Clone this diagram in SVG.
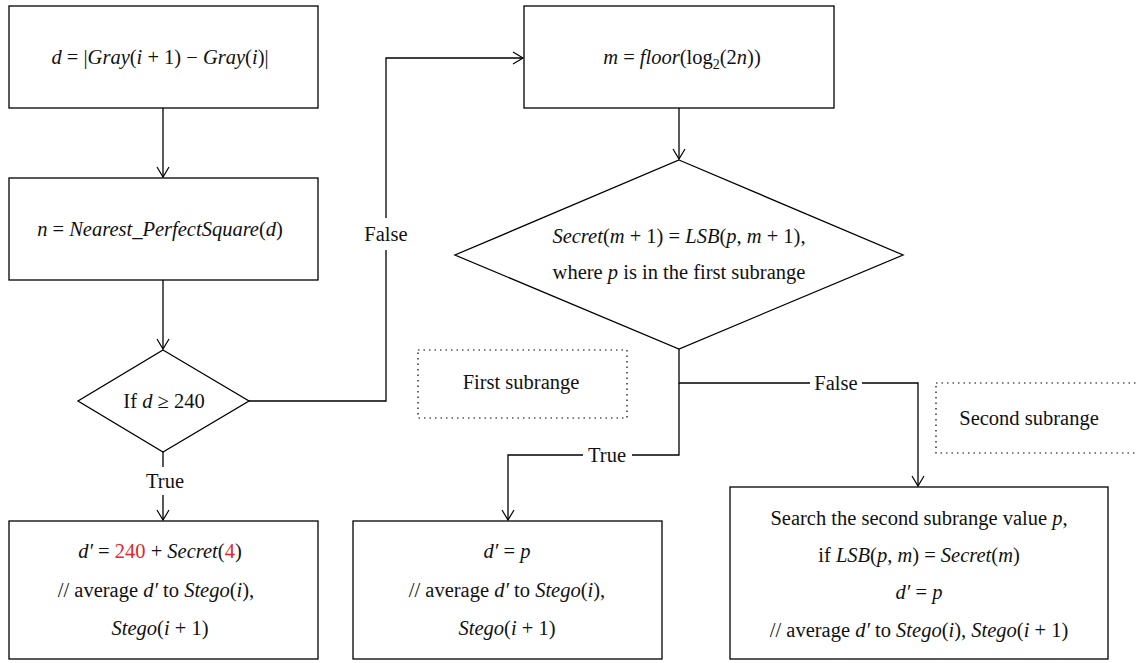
<svg xmlns="http://www.w3.org/2000/svg" width="1137" height="663" viewBox="0 0 1137 663">
<style>
.box{fill:#fff;stroke:#000;stroke-width:1.3}
.dot{fill:none;stroke:#000;stroke-width:1.2;stroke-dasharray:1.5 4}
.ln{fill:none;stroke:#000;stroke-width:1.3}
text{font-family:"Liberation Serif","Times New Roman",serif;font-size:20.5px;fill:#111;text-anchor:middle}
.i{font-style:italic}
.r{fill:#e3262a}
</style>
<defs>
<marker id="arr" markerWidth="14" markerHeight="14" refX="12" refY="7" orient="auto" markerUnits="userSpaceOnUse">
<path d="M2,1 L12,7 L2,13" fill="none" stroke="#000" stroke-width="1.2"/>
</marker>
</defs>
<rect width="1137" height="663" fill="#fff"/>
<g id="connectors">
<path class="ln" d="M163,108 V177" marker-end="url(#arr)"/>
<path class="ln" d="M163,280 V349" marker-end="url(#arr)"/>
<path class="ln" d="M163,452 V467 M163,495 V520" marker-end="url(#arr)"/>
<path class="ln" d="M249,401 H386 V250 M386,218 V58 H523" marker-end="url(#arr)"/>
<path class="ln" d="M679,108 V159" marker-end="url(#arr)"/>
<path class="ln" d="M679,349 V383 H810 M862,383 H918 V486" marker-end="url(#arr)"/>
<path class="ln" d="M679,383 V455 H632 M583,455 H508 V520" marker-end="url(#arr)"/>
<text x="165" y="488">True</text>
<text x="386" y="241">False</text>
<text x="836" y="390">False</text>
<text x="607" y="462">True</text>
</g>
<g id="n1">
<rect class="box" x="9" y="6" width="309" height="102"/>
<text x="160" y="64"><tspan class="i">d</tspan> = |<tspan class="i">Gray</tspan>(<tspan class="i">i</tspan> + 1) − <tspan class="i">Gray</tspan>(<tspan class="i">i</tspan>)|</text>
</g>
<g id="n2">
<rect class="box" x="9" y="178" width="309" height="102"/>
<text x="160" y="236"><tspan class="i">n</tspan> = <tspan class="i">Nearest_PerfectSquare</tspan>(<tspan class="i">d</tspan>)</text>
</g>
<g id="n3">
<polygon class="box" points="163,350 249,401 163,452 78,401"/>
<text x="164" y="408">If <tspan class="i">d</tspan> ≥ 240</text>
</g>
<g id="n4">
<rect class="box" x="9" y="521" width="309" height="138"/>
<text x="160" y="558"><tspan class="i">d′</tspan> = <tspan class="r">240</tspan> + <tspan class="i">Secret</tspan>(<tspan class="r">4</tspan>)</text>
<text x="156" y="597">// average <tspan class="i">d′</tspan> to <tspan class="i">Stego</tspan>(<tspan class="i">i</tspan>),</text>
<text x="160" y="635"><tspan class="i">Stego</tspan>(<tspan class="i">i</tspan> + 1)</text>
</g>
<g id="n5">
<rect class="box" x="524" y="6" width="310" height="102"/>
<text x="682" y="64"><tspan class="i">m</tspan> = <tspan class="i">floor</tspan>(log<tspan font-size="14" dy="5">2</tspan><tspan dy="-5">(2</tspan><tspan class="i">n</tspan>))</text>
</g>
<g id="n6">
<polygon class="box" points="679,160 903,255 679,349 455,255"/>
<text x="679" y="243"><tspan class="i">Secret</tspan>(<tspan class="i">m</tspan> + 1) = <tspan class="i">LSB</tspan>(<tspan class="i">p</tspan>, <tspan class="i">m</tspan> + 1),</text>
<text x="679" y="279">where <tspan class="i">p</tspan> is in the first subrange</text>
</g>
<g id="n7">
<rect class="dot" x="418" y="350" width="209" height="68"/>
<text x="521" y="389">First subrange</text>
</g>
<g id="n8">
<rect class="dot" x="936" y="383" width="210" height="70"/>
<text x="1029" y="425">Second subrange</text>
</g>
<g id="n9">
<rect class="box" x="353" y="521" width="309" height="138"/>
<text x="507" y="558"><tspan class="i">d′</tspan> = <tspan class="i">p</tspan></text>
<text x="507" y="597">// average <tspan class="i">d′</tspan> to <tspan class="i">Stego</tspan>(<tspan class="i">i</tspan>),</text>
<text x="507" y="635"><tspan class="i">Stego</tspan>(<tspan class="i">i</tspan> + 1)</text>
</g>
<g id="n10">
<rect class="box" x="730" y="487" width="378" height="172"/>
<text x="919" y="525">Search the second subrange value <tspan class="i">p</tspan>,</text>
<text x="919" y="562">if <tspan class="i">LSB</tspan>(<tspan class="i">p</tspan>, <tspan class="i">m</tspan>) = <tspan class="i">Secret</tspan>(<tspan class="i">m</tspan>)</text>
<text x="919" y="599"><tspan class="i">d′</tspan> = <tspan class="i">p</tspan></text>
<text x="919" y="637">// average <tspan class="i">d′</tspan> to <tspan class="i">Stego</tspan>(<tspan class="i">i</tspan>), <tspan class="i">Stego</tspan>(<tspan class="i">i</tspan> + 1)</text>
</g>
</svg>
